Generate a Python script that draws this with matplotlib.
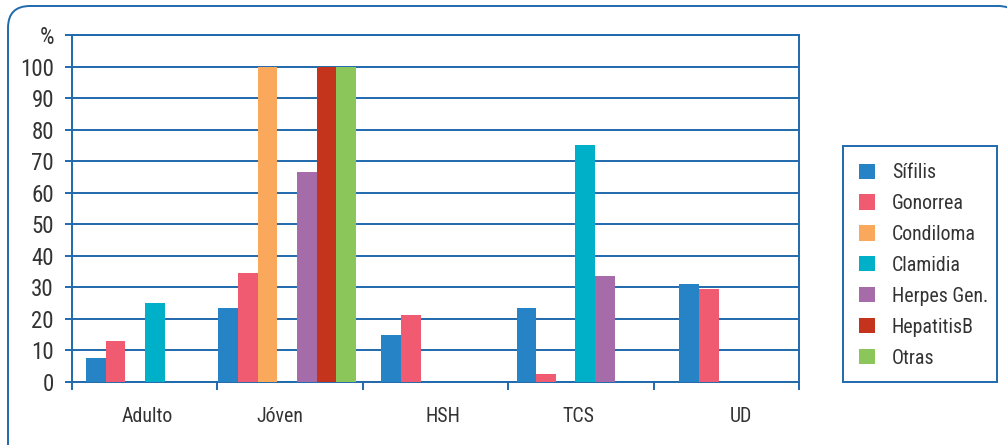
import numpy as np
import matplotlib.pyplot as plt
from matplotlib.patches import FancyBboxPatch, Patch, Rectangle

plt.rcParams['font.family'] = ['Liberation Sans Narrow', 'Roboto Condensed', 'DejaVu Sans']
plt.rcParams['font.stretch'] = 'condensed'

grupos = ['Adulto', 'Jóven', 'HSH', 'TCS', 'UD']
its = ['Sífilis', 'Gonorrea', 'Condiloma', 'Clamidia', 'Herpes Gen.', 'HepatitisB', 'Otras']

sifilis = [7.5, 23.5, 15, 23.5, 31]
gonorrea = [13, 34.5, 21.3, 2.5, 29.5]
condiloma = [0, 100, 0, 0, 0]
clamidia = [25, 0, 0, 75, 0]
herpes = [0, 66.7, 0, 33.5, 0]
hepatitis_b = [0, 100, 0, 0, 0]
otras = [0, 100, 0, 0, 0]

series = [sifilis, gonorrea, condiloma, clamidia, herpes, hepatitis_b, otras]
colores = ['#2683C6', '#F05B72', '#F9A85C', '#00B0C8', '#A66CAA', '#C4341D', '#8BC65A']

azul = '#1F69AC'
texto = '#333333'
tam = 14.3

# centros de cada grupo de barras (el eje va de 0 a 5, un tramo por grupo)
centros = np.array([0.57, 1.48, 2.60, 3.53, 4.65])
ancho = 0.135

fig = plt.figure(figsize=(10.07, 4.45), dpi=100)

# capa en píxeles para el marco y la caja de la leyenda
fondo = fig.add_axes([0, 0, 1, 1], zorder=-1)
fondo.set_xlim(0, 1007)
fondo.set_ylim(445, 0)
fondo.axis('off')
fondo.add_patch(FancyBboxPatch((8, 6), 1012, 470, boxstyle='round,pad=0,rounding_size=22',
                               fill=False, edgecolor=azul, linewidth=1.4))
fondo.add_patch(Rectangle((843, 146), 154, 236, fill=False, edgecolor=azul, linewidth=1.4))

ax = fig.add_axes([72 / 1007, 1 - 382 / 445, (799 - 72) / 1007, (382 - 35) / 445])
ax.patch.set_alpha(0)

for i, (vals, col) in enumerate(zip(series, colores)):
    x = centros + (i - 3) * ancho
    ax.bar(x, vals, width=ancho, color=col, align='center', zorder=3)

ax.set_xlim(0, 5)
ax.set_ylim(0, 110)

ax.set_yticks(np.arange(0, 111, 10))
ax.set_yticklabels([str(v) for v in range(0, 101, 10)] + ['%'])
ax.yaxis.grid(True, color=azul, linewidth=1.4, zorder=0)
ax.tick_params(axis='y', length=5, width=1.4, color=azul, labelcolor=texto,
               labelsize=16.5, pad=8)

ax.set_xticks(np.arange(0, 6))
ax.set_xticklabels([])
ax.tick_params(axis='x', which='major', length=6, width=1.4, color=azul)
ax.set_xticks(centros - 0.05, minor=True)
ax.set_xticklabels(grupos, minor=True)
ax.tick_params(axis='x', which='minor', length=0, labelcolor=texto,
               labelsize=tam, pad=18)

for s in ax.spines.values():
    s.set_color(azul)
    s.set_linewidth(1.4)

handles = [Patch(facecolor=c, edgecolor='none') for c in colores]
fig.legend(handles, its, loc='upper left',
           bbox_to_anchor=(859 / 1007, 1 - 163 / 445), bbox_transform=fig.transFigure,
           frameon=False, fontsize=tam, labelcolor=texto,
           handlelength=0.8, handleheight=0.8, handletextpad=0.85,
           labelspacing=0.6, borderpad=0, borderaxespad=0)

fig.savefig('out.png', dpi=100)
